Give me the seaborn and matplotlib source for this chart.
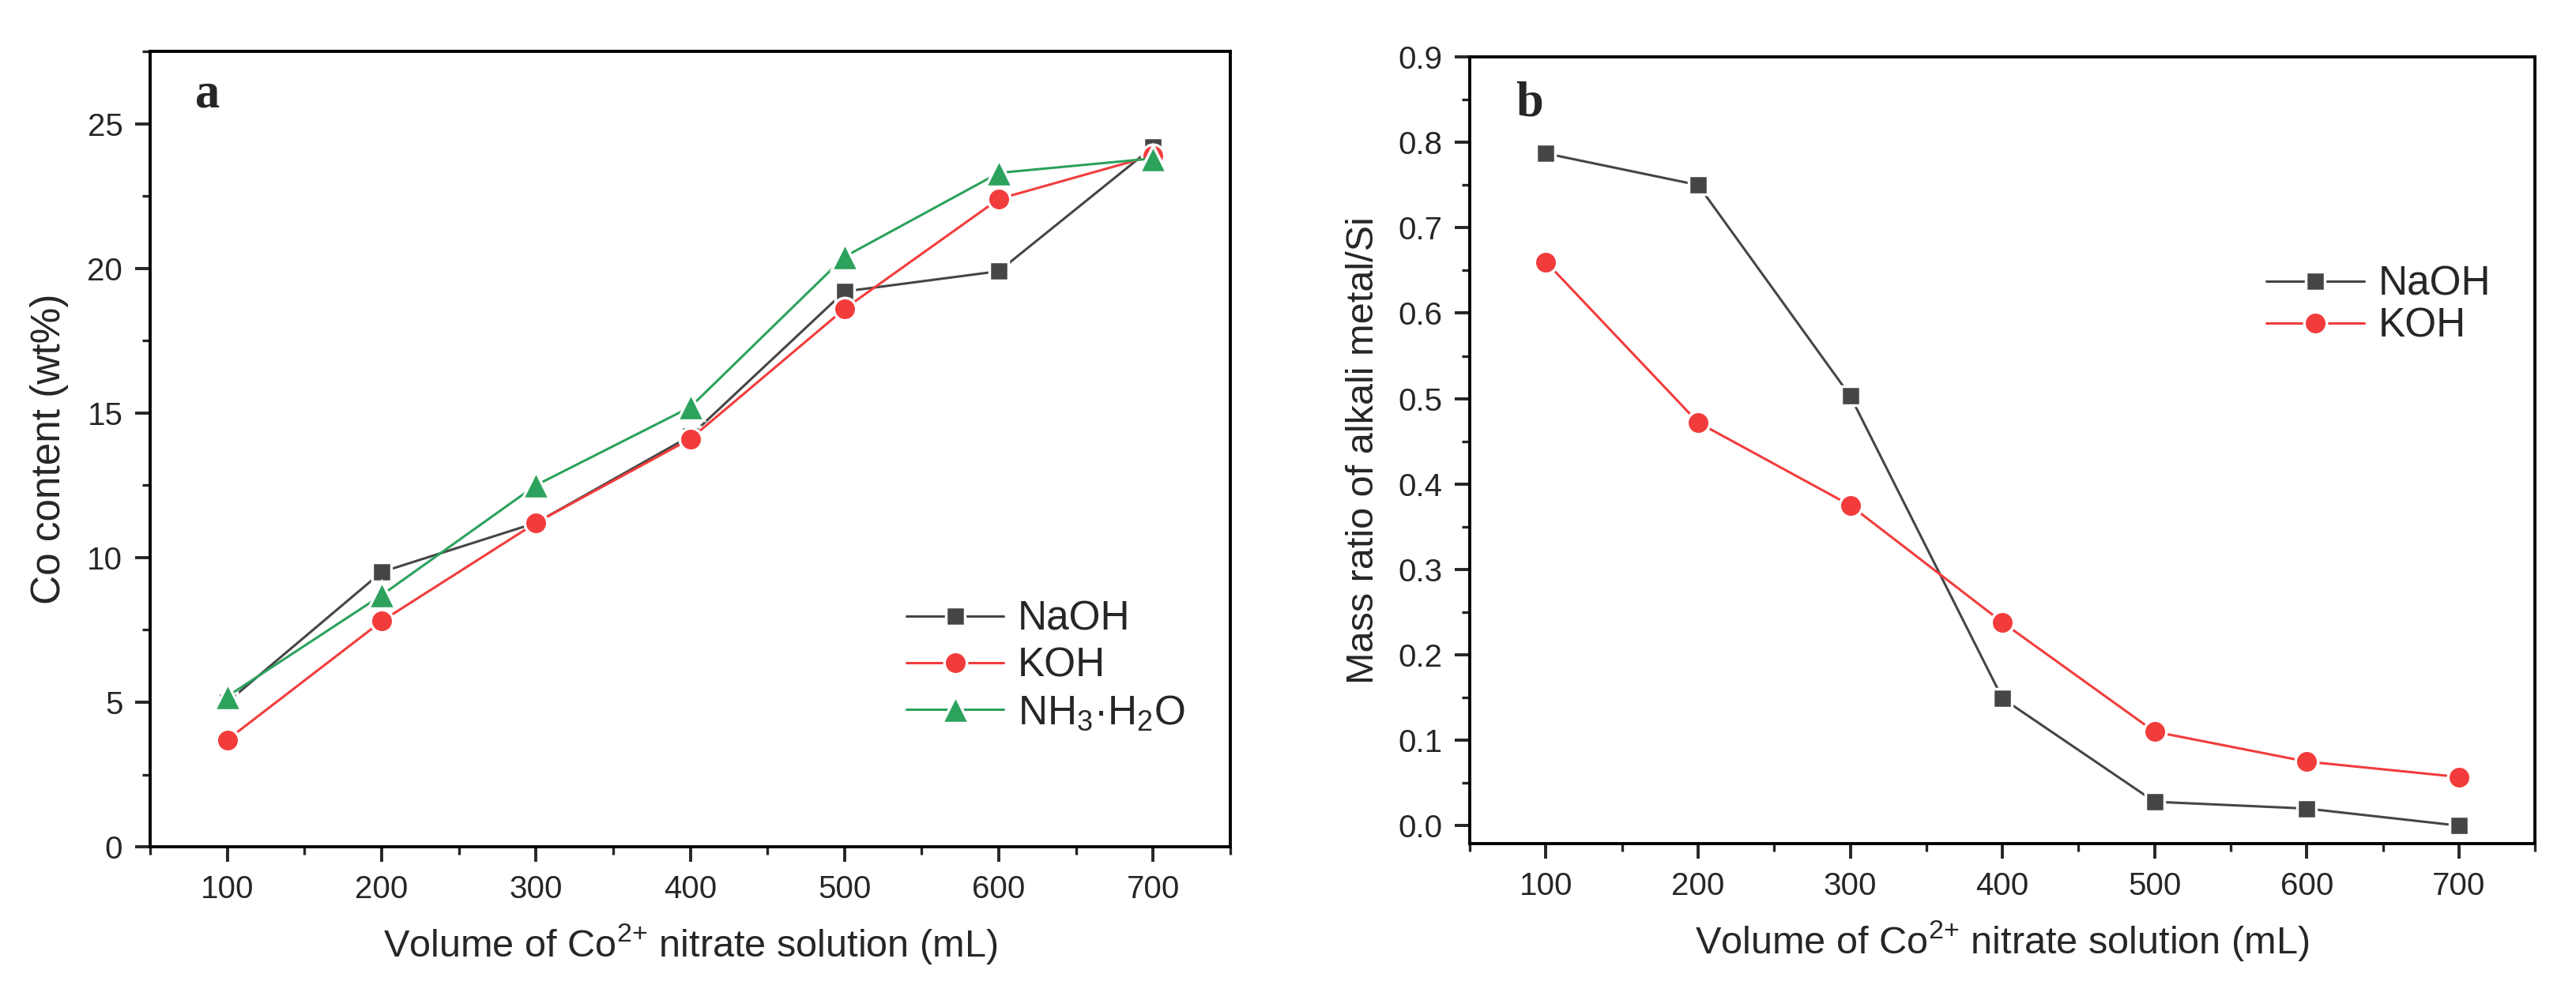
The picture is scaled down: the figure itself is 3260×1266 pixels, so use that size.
import numpy as np
import pandas as pd
import matplotlib
matplotlib.use("Agg")
import matplotlib.pyplot as plt
import seaborn as sns
from matplotlib.ticker import MultipleLocator, FormatStrFormatter

# Data
volume = [100, 200, 300, 400, 500, 600, 700]
co_naoh = [5.0, 9.5, 11.2, 14.2, 19.2, 19.9, 24.2]
co_koh = [3.7, 7.8, 11.2, 14.1, 18.6, 22.4, 23.9]
co_nh3 = [5.2, 8.7, 12.5, 15.2, 20.4, 23.3, 23.8]
ratio_naoh = [0.787, 0.750, 0.503, 0.149, 0.028, 0.020, 0.0]
ratio_koh = [0.660, 0.472, 0.375, 0.238, 0.110, 0.075, 0.057]

lab_naoh = "NaOH"
lab_koh = "KOH"
lab_nh3 = r"NH$_3$·H$_2$O"

df_a = pd.DataFrame({
    "volume": volume * 3,
    "value": co_naoh + co_koh + co_nh3,
    "base": [lab_naoh] * 7 + [lab_koh] * 7 + [lab_nh3] * 7,
})
df_b = pd.DataFrame({
    "volume": volume * 2,
    "value": ratio_naoh + ratio_koh,
    "base": [lab_naoh] * 7 + [lab_koh] * 7,
})

sns.set_style("ticks")
plt.rcParams['font.family'] = ['Liberation Sans', 'DejaVu Sans']
plt.rcParams['mathtext.fontset'] = 'custom'
plt.rcParams['mathtext.rm'] = 'Liberation Sans'

colors = {lab_naoh: "#454545", lab_koh: "#f23c3c", lab_nh3: "#2ca25c"}
markers = {lab_naoh: "s", lab_koh: "o", lab_nh3: "^"}
msize = {"s": 17.5, "o": 20.5, "^": 24}

fig = plt.figure(figsize=(32.6, 12.66), dpi=100)
ax_a = fig.add_axes([0.0583, 0.1532, 0.4193, 0.7954])
ax_b = fig.add_axes([0.5706, 0.1564, 0.4135, 0.7867])

xlabel = r"Volume of Co$^{2{+}}$ nitrate solution (mL)"

for ax, df, order in [(ax_a, df_a, [lab_naoh, lab_koh, lab_nh3]),
                      (ax_b, df_b, [lab_naoh, lab_koh])]:
    sns.lineplot(data=df, x="volume", y="value", hue="base", style="base",
                 hue_order=order, style_order=order,
                 palette=colors, markers=markers, dashes=False,
                 markersize=18, linewidth=2.2, markeredgewidth=2.5,
                 markeredgecolor="white", legend=True, ax=ax)
    ax.set_xlim(50, 750)
    ax.xaxis.set_major_locator(MultipleLocator(100))
    ax.xaxis.set_minor_locator(MultipleLocator(50))
    ax.set_xlabel(xlabel, fontsize=35, labelpad=16)
    ax.tick_params(axis="both", which="major", labelsize=29, length=14, width=2.8,
                   direction="out", pad=11)
    ax.tick_params(axis="both", which="minor", length=7, width=2.4, direction="out")
    for s in ax.spines.values():
        s.set_linewidth(2.8)
        s.set_color("black")
    # marker sizes differ by shape in the reference
    for ln in ax.lines:
        m = ln.get_marker()
        if m in msize:
            ln.set_markersize(msize[m])
    handles, labels = ax.get_legend_handles_labels()
    for h in handles:
        m = h.get_marker()
        if m in msize:
            h.set_markersize(msize[m])
        h.set_markeredgecolor("white")
        h.set_markeredgewidth(2.5)

leg_kw = dict(frameon=False, fontsize=37, handlelength=2.4, handletextpad=0.35,
              borderpad=0, borderaxespad=0, loc="center left")

ax_a.set_ylim(0, 27.5)
ax_a.yaxis.set_major_locator(MultipleLocator(5))
ax_a.yaxis.set_minor_locator(MultipleLocator(2.5))
ax_a.set_ylabel("Co content (wt%)", fontsize=37, labelpad=17)
ax_a.legend(bbox_to_anchor=(0.70, 0.227), labelspacing=0.2, **leg_kw)
ax_a.text(0.053, 0.945, "a", transform=ax_a.transAxes, fontsize=45, fontweight="bold",
          family="Liberation Serif", ha="center", va="center")

ax_b.set_ylim(-0.021, 0.9)
ax_b.yaxis.set_major_locator(MultipleLocator(0.1))
ax_b.yaxis.set_minor_locator(MultipleLocator(0.05))
ax_b.yaxis.set_major_formatter(FormatStrFormatter("%.1f"))
ax_b.set_ylabel("Mass ratio of alkali metal/Si", fontsize=35, labelpad=15)
ax_b.legend(bbox_to_anchor=(0.748, 0.684), labelspacing=0.08, **leg_kw)
ax_b.text(0.056, 0.94, "b", transform=ax_b.transAxes, fontsize=45, fontweight="bold",
          family="Liberation Serif", ha="center", va="center")

fig.savefig("out.png", dpi=100, facecolor="white")
